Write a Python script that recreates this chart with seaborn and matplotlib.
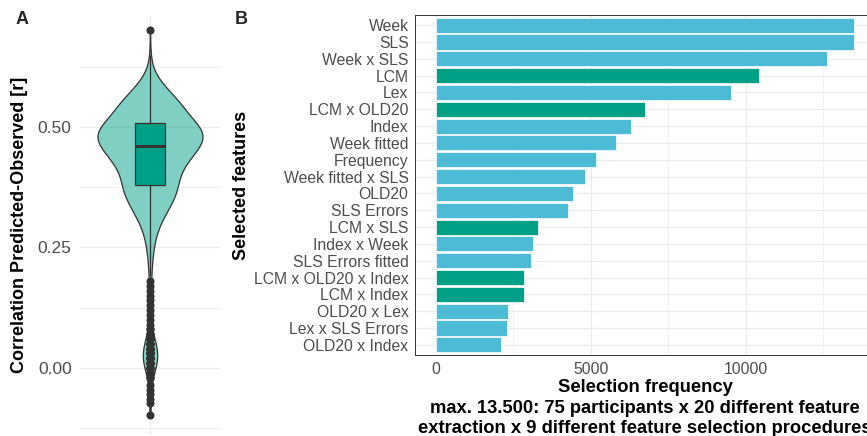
import numpy as np
import pandas as pd
import matplotlib
matplotlib.use("Agg")
import matplotlib.pyplot as plt
from matplotlib.ticker import FixedLocator
import seaborn as sns

sns.set_theme(style="white")
plt.rcParams["font.family"] = ["Liberation Sans", "DejaVu Sans"]

# ---- Panel A: prediction accuracy (correlation r), as a frequency table ----
r_values = [0.70, 0.65, 0.64, 0.63, 0.62, 0.61, 0.60, 0.59, 0.58, 0.57, 0.56,
            0.55, 0.54, 0.53, 0.52, 0.51,
            0.50, 0.49, 0.48, 0.47, 0.46,
            0.45, 0.44, 0.43, 0.42, 0.41, 0.40, 0.39, 0.38,
            0.37, 0.36, 0.35, 0.34, 0.33, 0.32, 0.31, 0.30, 0.29, 0.28,
            0.27, 0.26, 0.25, 0.24, 0.23, 0.22, 0.21, 0.20,
            0.19, 0.18, 0.17, 0.16, 0.15, 0.14, 0.13, 0.12, 0.11, 0.10,
            0.09, 0.08,
            0.07, 0.06, 0.05, 0.04, 0.03, 0.02, 0.01, 0.00, -0.01, -0.02,
            -0.035, -0.046, -0.054, -0.065, -0.073, -0.098]
r_counts = [1, 1, 1, 1, 2, 4, 7, 11, 15, 19, 24,
            28, 32, 34, 35, 36,
            52, 52, 51, 48, 48,
            42, 38, 34, 31, 28, 26, 25, 26,
            26, 24, 22, 19, 17, 14, 12, 9, 7, 6,
            5, 4, 3, 3, 2, 2, 2, 1,
            1, 1, 1, 1, 1, 1, 1, 1, 1, 1,
            1, 2,
            2, 4, 6, 7, 8, 8, 7, 5, 4, 2,
            1, 1, 1, 1, 1, 1]

# ---- Panel B: how often each feature was selected ----
features = ["Week", "SLS", "Week x SLS", "LCM", "Lex", "LCM x OLD20", "Index",
            "Week fitted", "Frequency", "Week fitted x SLS", "OLD20",
            "SLS Errors", "LCM x SLS", "Index x Week", "SLS Errors fitted",
            "LCM x OLD20 x Index", "LCM x Index", "OLD20 x Lex",
            "Lex x SLS Errors", "OLD20 x Index"]
selection_freq = [13500, 13500, 12610, 10430, 9530, 6760, 6310, 5800, 5180,
                  4800, 4440, 4260, 3290, 3150, 3070, 2850, 2840, 2330, 2310,
                  2100]
feature_group = ["other", "other", "other", "lcm", "other", "lcm", "other",
                 "other", "other", "other", "other", "other", "lcm", "other",
                 "other", "lcm", "lcm", "other", "other", "other"]

TEAL = "#00A087"
BLUE = "#4DBBD5"
GRID = "#EBEBEB"
TXT = "#4D4D4D"
DARK = "#333333"

corr = np.repeat(np.array(r_values), r_counts)
bars = pd.DataFrame({"feature": features, "freq": selection_freq,
                     "group": feature_group})

fig = plt.figure(figsize=(8.67, 4.36), dpi=100)
axA = fig.add_axes([80 / 867, 2 / 436, 140 / 867, 418 / 436])
axB = fig.add_axes([414.8 / 867, 81 / 436, 460.3 / 867, 340 / 436])

# ---------------- Panel A ----------------
sns.violinplot(y=corr, ax=axA, color=TEAL, saturation=1, linecolor=DARK,
               linewidth=0.9, inner=None, cut=0, width=0.9,
               density_norm="area", bw_method=0.16, gridsize=400)
for coll in axA.collections:
    coll.set_facecolor((0.0, 160 / 255, 135 / 255, 0.5))
sns.boxplot(y=corr, ax=axA, color=TEAL, saturation=1, width=0.25,
            linecolor=DARK, linewidth=0.9, fliersize=4.8, showcaps=False,
            flierprops=dict(marker="o", markerfacecolor=DARK,
                            markeredgecolor=DARK),
            medianprops=dict(linewidth=2.2, color=DARK))

axA.set_xlim(-0.6, 0.6)
axA.set_ylim(-0.137, 0.730)
axA.yaxis.set_major_locator(FixedLocator([0.0, 0.25, 0.5]))
axA.yaxis.set_minor_locator(FixedLocator([-0.125, 0.125, 0.375, 0.625]))
axA.set_yticklabels(["0.00", "0.25", "0.50"])
axA.set_xticks([0])
axA.set_xticklabels([])
axA.set_axisbelow(True)
axA.grid(which="major", color=GRID, linewidth=0.9)
axA.grid(which="minor", color=GRID, linewidth=0.5)
for s in axA.spines.values():
    s.set_visible(False)
axA.tick_params(axis="both", which="both", length=0)
axA.tick_params(axis="y", labelsize=12.5, labelcolor=TXT, pad=6)
axA.set_xlabel("")
axA.set_ylabel("Correlation Predicted-Observed [r]", fontsize=13,
               fontweight="bold", color="black", labelpad=7)

# ---------------- Panel B ----------------
sns.barplot(data=bars, x="freq", y="feature", hue="group", orient="h",
            palette={"other": BLUE, "lcm": TEAL}, dodge=False, width=0.9,
            saturation=1, edgecolor="white", linewidth=0.5, legend=False,
            ax=axB)
axB.set_xlim(-675, 14175)
axB.set_ylim(len(features) - 0.4, -0.6)
axB.xaxis.set_major_locator(FixedLocator([0, 5000, 10000]))
axB.xaxis.set_minor_locator(FixedLocator([2500, 7500, 12500]))
axB.set_xticklabels(["0", "5000", "10000"])
axB.set_axisbelow(True)
axB.grid(which="major", color=GRID, linewidth=0.9)
axB.grid(which="minor", axis="x", color=GRID, linewidth=0.5)
for s in axB.spines.values():
    s.set_visible(True)
    s.set_color(DARK)
    s.set_linewidth(0.7)
axB.tick_params(axis="both", which="major", length=3, width=0.7, color=DARK,
                labelsize=11.3, labelcolor=TXT)
axB.tick_params(axis="y", pad=1.5)
axB.tick_params(axis="x", pad=2)
axB.tick_params(which="minor", length=0)
axB.set_ylabel("Selected features", fontsize=13, fontweight="bold",
               color="black", labelpad=3)
axB.set_xlabel("Selection frequency\n"
               "max. 13.500: 75 participants x 20 different feature\n"
               "extraction x 9 different feature selection procedures",
               fontsize=13.2, fontweight="bold", color="black",
               linespacing=1.28, labelpad=1.5)

fig.text(22 / 867, 1 - 20 / 436, "A", fontsize=13, fontweight="bold",
         ha="center", va="center")
fig.text(241 / 867, 1 - 20 / 436, "B", fontsize=13, fontweight="bold",
         ha="center", va="center")

fig.savefig("out.png", dpi=100)
